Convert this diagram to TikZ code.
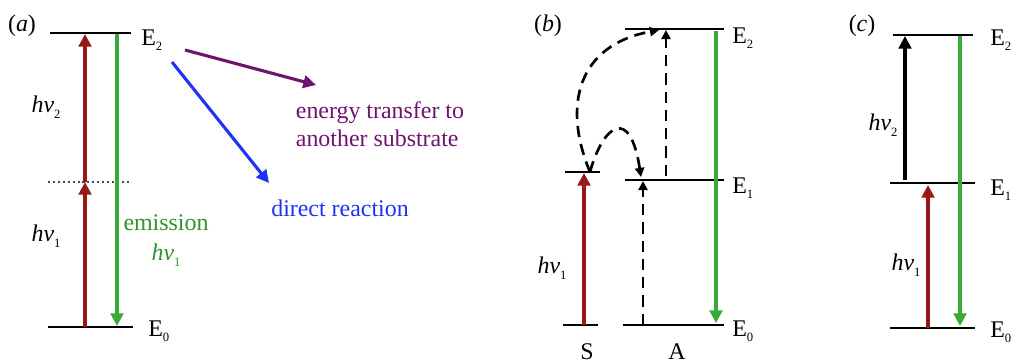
\documentclass[tikz,border=0pt]{standalone}
\usepackage{fontspec}
\setmainfont{Liberation Serif}
\usetikzlibrary{positioning,arrows.meta}

\definecolor{upred}{RGB}{150,25,25}
\definecolor{emgreen}{RGB}{55,170,55}
\definecolor{trpurple}{RGB}{110,20,110}
\definecolor{rxblue}{RGB}{30,50,245}

\newcommand{\lvl}[1]{E\raisebox{-0.5ex}{\small #1}}
\newcommand{\hnu}[1]{\textit{hν}\raisebox{-0.5ex}{\small #1}}

\begin{document}
\begin{tikzpicture}[x=0.025cm,y=-0.025cm,
  level/.style={line width=2.1pt},
  photon/.style={line width=2.2pt,-{Triangle[width=9pt,length=9pt]}},
  dashtrans/.style={line width=1.9pt,dash pattern=on 8pt off 5pt,-{Triangle[width=6.5pt,length=6.5pt]}},
  txt/.style={inner sep=0pt,font=\fontsize{17}{20}\selectfont}]
\useasboundingbox (0,0) rectangle (1016,362);

% (a) upconversion with a virtual level
\node[txt] (pa) at (22,26) {(\textit{a})};
\draw[level] (50,33) -- (131,33);
\draw[level] (48,327) -- (133,327);
\draw[line width=1.5pt,dotted,gray!60!black] (48,182) -- (131,182);
\coordinate (a0) at (85,327);
\coordinate (a1) at (85,182);
\coordinate (a2) at (85,34);
\draw[photon,upred] (a0) -- (a1);
\draw[photon,upred] (a1) -- (a2);
\coordinate (ag2) at (117,34);
\coordinate (ag0) at (117,326);
\draw[photon,emgreen] (ag2) -- (ag0);
\node[txt,anchor=west] (ae2) at (141,40) {\lvl{2}};
\node[txt,anchor=west] (ae0) at (148,331) {\lvl{0}};
\node[txt] (ahv2) at (46,107) {\hnu{2}};
\node[txt] (ahv1) at (46,236) {\hnu{1}};
\node[txt,emgreen!85!black] (aem) at (166,223) {emission};
\node[txt,emgreen!85!black] (aemhv) at (166,255) {\hnu{1}};
\node[txt,trpurple,align=left] (atr) at (380,124) {energy transfer to\\another substrate};
\node[txt,rxblue] (arx) at (340,208) {direct reaction};
\coordinate (ap) at (185,50);
\coordinate (ab) at (172,62);
\draw[photon,trpurple] (ap) -- (316,85);
\draw[photon,rxblue] (ab) -- (269,183);

% (b) sensitised two-step
\node[txt] (pb) at (548,26) {(\textit{b})};
\draw[level] (625,29) -- (724,29);
\draw[level] (625,180) -- (724,180);
\draw[level] (623,325) -- (724,325);
\draw[level] (565,172) -- (600,172);
\draw[level] (563,325) -- (598,325);
\coordinate (s0) at (584,325);
\coordinate (s1) at (584,173);
\draw[photon,upred] (s0) -- (s1);
\coordinate (bg2) at (716,31);
\coordinate (bg0) at (716,323);
\draw[photon,emgreen] (bg2) -- (bg0);
\coordinate (sx) at (590,172);
\draw[dashtrans] (643,325) -- (643,181);
\draw[dashtrans] (666,176) -- (666,30);
\draw[dashtrans] (sx) .. controls (562,105) and (578,45) .. (659,30);
\draw[dashtrans] (sx) .. controls (603,125) and (630,105) .. (641,177);
\node[txt,anchor=west] (be2) at (732,38) {\lvl{2}};
\node[txt,anchor=west] (be1) at (732,188) {\lvl{1}};
\node[txt,anchor=west] (be0) at (732,331) {\lvl{0}};
\node[txt] (bhv1) at (552,268) {\hnu{1}};
\node[txt] (bs) at (587,352) {S};
\node[txt] (ba) at (677,352) {A};

% (c) ground and excited state absorption
\node[txt] (pc) at (862,26) {(\textit{c})};
\draw[level] (893,35) -- (973,35);
\draw[level] (890,183) -- (975,183);
\draw[level] (890,328) -- (975,328);
\coordinate (c1) at (905,180);
\coordinate (c2) at (905,36);
\draw[photon,black] (c1) -- (c2);
\coordinate (cr0) at (928,328);
\coordinate (cr1) at (928,185);
\draw[photon,upred] (cr0) -- (cr1);
\coordinate (cg2) at (960,36);
\coordinate (cg0) at (960,326);
\draw[photon,emgreen] (cg2) -- (cg0);
\node[txt,anchor=west] (ce2) at (990,40) {\lvl{2}};
\node[txt,anchor=west] (ce1) at (990,190) {\lvl{1}};
\node[txt,anchor=west] (ce0) at (990,332) {\lvl{0}};
\node[txt] (chv2) at (883,125) {\hnu{2}};
\node[txt] (chv1) at (906,265) {\hnu{1}};
\end{tikzpicture}
\end{document}
